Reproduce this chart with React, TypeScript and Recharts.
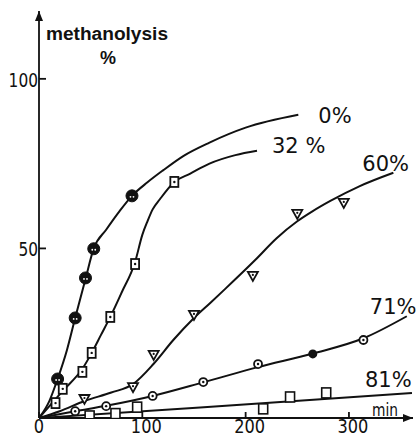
import React from "react";
import { ComposedChart, Line, Scatter, XAxis, YAxis, ReferenceDot, LabelList } from "recharts";

// fitted curves
const curve0X = [0, 10, 18, 27, 35, 45, 53, 65, 78, 90, 105, 120, 140, 165, 200, 251];
const curve0Y = [0, 5, 11.5, 20, 29.5, 41, 50, 55.5, 61, 65.5, 69.5, 73, 77.3, 81.2, 85.6, 89.4];
const curve32X = [0, 23, 42, 51, 60, 69, 80, 93, 100, 105, 110, 117, 131, 146, 165, 190, 211];
const curve32Y = [0, 8, 14.5, 19.2, 24.5, 29.8, 37, 46, 54, 58, 61.5, 64.5, 69.6, 72, 75, 77.5, 78.8];
const curve60X = [0, 20, 44, 70, 91, 111, 130, 150, 166, 180, 209, 230, 250, 265, 282, 310, 343];
const curve60Y = [0, 2, 5, 7.5, 10, 16, 23, 29.5, 34, 38, 46.5, 53, 58, 61, 64, 68.3, 72.3];
const curve71X = [0, 35, 65, 110, 159, 212, 265, 314, 356];
const curve71Y = [0, 2, 3.6, 6.5, 10.5, 15, 19, 23.5, 30];
const curve81X = [0, 156, 361];
const curve81Y = [0, 3.1, 7.4];

// measured points
const pts0X = [18, 35, 45, 53, 90];
const pts0Y = [11.5, 29.5, 41.3, 49.9, 65.5];
const pts32X = [16, 23, 42, 51, 69, 93, 131];
const pts32Y = [4.4, 8.6, 13.6, 19.2, 29.8, 45.4, 69.6];
const pts60X = [44, 91, 111, 150, 207, 250, 295];
const pts60Y = [5.6, 9.1, 18.6, 30.4, 41.9, 60.2, 63.4];
const pts71X = [35, 65, 110, 159, 212, 314];
const pts71Y = [2, 3.5, 6.5, 10.6, 15.9, 23];
const pts71FilledX = [265];
const pts71FilledY = [18.9];
const pts81X = [49, 74, 95, 217, 243, 278];
const pts81Y = [0.6, 1.3, 3.2, 2.7, 6.2, 7.4];

const xTicks = [0, 100, 200, 300];
const yTicks = [50, 100];

const zip = (xs: number[], ys: number[]) => xs.map((x, i) => ({ x, y: ys[i] }));

const FONT = "'DejaVu Sans', sans-serif";
const INK = "#111";

const Dot0 = (p: any) => (
  <g>
    <circle cx={p.cx} cy={p.cy} r={6} fill={INK} stroke={INK} strokeWidth={1} />
    <circle cx={p.cx - 1.5} cy={p.cy + 1} r={0.9} fill="#fff" />
    <circle cx={p.cx + 1.5} cy={p.cy + 1} r={0.9} fill="#fff" />
  </g>
);
const Square32 = (p: any) => (
  <g>
    <rect x={p.cx - 4} y={p.cy - 5} width={8} height={10} fill="#fff" stroke={INK} strokeWidth={1.8} />
    <circle cx={p.cx} cy={p.cy} r={1.2} fill={INK} />
  </g>
);
const Tri60 = (p: any) => (
  <g>
    <path d={`M${p.cx - 5},${p.cy - 4} L${p.cx + 5},${p.cy - 4} L${p.cx},${p.cy + 5} Z`} fill="#fff" stroke={INK} strokeWidth={1.8} />
    <circle cx={p.cx} cy={p.cy - 1} r={1.1} fill={INK} />
  </g>
);
const Circle71 = (p: any) => (
  <g>
    <circle cx={p.cx} cy={p.cy} r={4} fill="#fff" stroke={INK} strokeWidth={1.8} />
    <circle cx={p.cx} cy={p.cy} r={1.2} fill={INK} />
  </g>
);
const Circle71Filled = (p: any) => <circle cx={p.cx} cy={p.cy} r={4.5} fill={INK} />;
const Square81 = (p: any) => (
  <rect x={p.cx - 4.5} y={p.cy - 5} width={9} height={10} fill="#fff" stroke={INK} strokeWidth={1.6} />
);

const endLabel = (text: string, last: number, dx: number, dy: number) => (props: any) => {
  if (props.index !== last) return null;
  return (
    <text x={props.x + dx} y={props.y + dy} fontFamily={FONT} fontSize={21} fill={INK}>
      {text}
    </text>
  );
};

const XTick = (p: any) => {
  const s = String(p.payload.value);
  return (
    <g>
      <line x1={p.x} y1={p.y} x2={p.x} y2={p.y - 6} stroke={INK} strokeWidth={1.8} />
      <text
        x={p.x + (s === "0" ? 0 : 4)}
        y={p.y + 15}
        textAnchor="middle"
        fontFamily={FONT}
        fontSize={19}
        textLength={s.length * 10.3}
        lengthAdjust="spacingAndGlyphs"
        fill={INK}
      >
        {s}
      </text>
    </g>
  );
};
const YTick = (p: any) => {
  const s = String(p.payload.value);
  return (
    <g>
      <line x1={p.x} y1={p.y} x2={p.x + 7} y2={p.y} stroke={INK} strokeWidth={1.8} />
      <text
        x={p.x - 1 - s.length * 9.8}
        y={p.y + 8}
        fontFamily={FONT}
        fontSize={20}
        textLength={s.length * 9.8}
        lengthAdjust="spacingAndGlyphs"
        fill={INK}
      >
        {s}
      </text>
    </g>
  );
};

const ArrowRight = (p: any) => (
  <path d={`M${p.cx},${p.cy} L${p.cx - 10},${p.cy - 4} L${p.cx - 10},${p.cy + 4} Z`} fill={INK} />
);
const ArrowUp = (p: any) => (
  <path d={`M${p.cx},${p.cy} L${p.cx - 4},${p.cy + 10} L${p.cx + 4},${p.cy + 10} Z`} fill={INK} />
);

const YTitle = (p: any) => {
  const vb = p.viewBox;
  const left = vb.x + vb.width;
  return (
    <g fontFamily="'Liberation Sans', Arial, sans-serif" fontSize={18} fontWeight="bold" fill={INK}>
      <text x={left + 7} y={vb.y + 29} textLength={122} lengthAdjust="spacingAndGlyphs">methanolysis</text>
      <text x={left + 69} y={vb.y + 53} textAnchor="middle">%</text>
    </g>
  );
};
const XTitle = (p: any) => {
  const vb = p.viewBox;
  return (
    <text x={vb.x + vb.width - 41} y={vb.y - 2} fontFamily={FONT} fontSize={18} textLength={26} lengthAdjust="spacingAndGlyphs" fill={INK}>
      min
    </text>
  );
};

const lines = [
  { name: "0%", data: zip(curve0X, curve0Y), dx: 20, dy: 8 },
  { name: "32 %", data: zip(curve32X, curve32Y), dx: 15, dy: 2 },
  { name: "60%", data: zip(curve60X, curve60Y), dx: -31, dy: -2 },
  { name: "71%", data: zip(curve71X, curve71Y), dx: -37, dy: -2 },
  { name: "81%", data: zip(curve81X, curve81Y), dx: -47, dy: -6 },
];

export default function App() {
  return (
    <div style={{ position: "absolute", left: 0, top: 0, background: "#fff" }}>
      <ComposedChart width={416} height={436} margin={{ top: 11, right: 3, bottom: 0, left: 0 }}>
        <XAxis
          type="number"
          dataKey="x"
          domain={[0, 362]}
          ticks={xTicks}
          height={18}
          tickLine={false}
          tickSize={0}
          tickMargin={0}
          tick={<XTick />}
          axisLine={{ stroke: INK, strokeWidth: 1.8 }}
          allowDataOverflow
          label={<XTitle />}
        />
        <YAxis
          type="number"
          dataKey="y"
          domain={[0, 120]}
          ticks={yTicks}
          width={39}
          tickLine={false}
          tickSize={0}
          tickMargin={0}
          tick={<YTick />}
          axisLine={{ stroke: INK, strokeWidth: 1.8 }}
          allowDataOverflow
          label={<YTitle />}
        />
        {lines.map((l) => (
          <Line
            key={l.name}
            data={l.data}
            dataKey="y"
            type="monotone"
            stroke={INK}
            strokeWidth={2}
            dot={false}
            activeDot={false}
            isAnimationActive={false}
          >
            <LabelList dataKey="y" content={endLabel(l.name, l.data.length - 1, l.dx, l.dy)} />
          </Line>
        ))}
        <Scatter data={zip(pts0X, pts0Y)} shape={<Dot0 />} isAnimationActive={false} />
        <Scatter data={zip(pts32X, pts32Y)} shape={<Square32 />} isAnimationActive={false} />
        <Scatter data={zip(pts60X, pts60Y)} shape={<Tri60 />} isAnimationActive={false} />
        <Scatter data={zip(pts71X, pts71Y)} shape={<Circle71 />} isAnimationActive={false} />
        <Scatter data={zip(pts71FilledX, pts71FilledY)} shape={<Circle71Filled />} isAnimationActive={false} />
        <Scatter data={zip(pts81X, pts81Y)} shape={<Square81 />} isAnimationActive={false} />
        <ReferenceDot x={362} y={0} r={0} shape={<ArrowRight />} ifOverflow="visible" />
        <ReferenceDot x={0} y={120} r={0} shape={<ArrowUp />} ifOverflow="visible" />
      </ComposedChart>
    </div>
  );
}
